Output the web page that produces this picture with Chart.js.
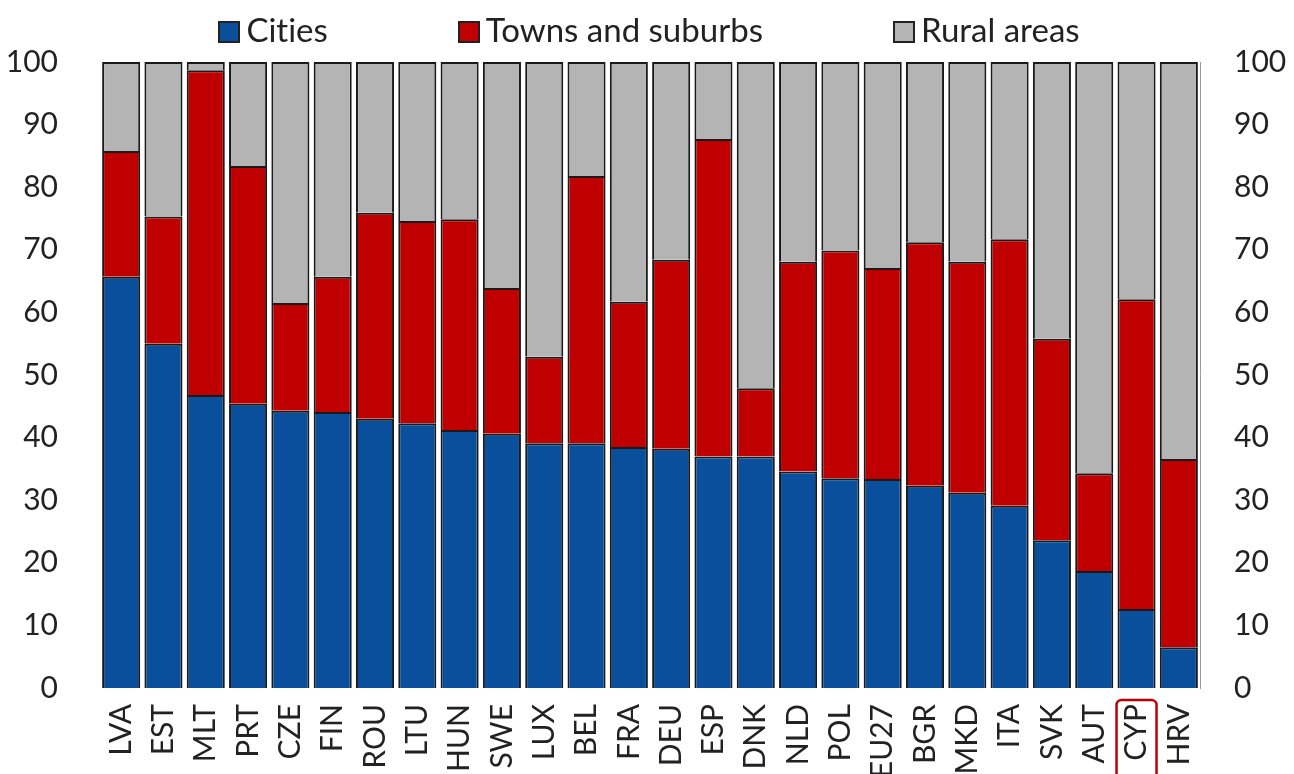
<!DOCTYPE html>
<html lang="en">
  <head>
    <meta charset="UTF-8" />
    <title>Cities, towns and rural areas</title>
    <script src="https://cdn.jsdelivr.net/npm/chart.js@4.4.1/dist/chart.umd.min.js"></script>
    <style>
      body {
        margin: 0;
        background: #fff;
        font-family: Lato, sans-serif;
      }

      .wrap {
        position: relative;
        width: 1294px;
        height: 774px;
      }

      .legend {
        position: absolute;
        top: 10px;
        left: 2px;
        width: 1294px;
        display: flex;
        justify-content: center;
        gap: 130px;
        font-size: 33px;
        color: #222;
        line-height: 38px;
        font-variant-ligatures: none;
        z-index: 2;
      }

      .legend span.box {
        display: inline-block;
        width: 18px;
        height: 18px;
        border: 2px solid #222;
        margin-right: 6px;
        vertical-align: -1px;
      }
    </style>
  </head>
  <body>
    <div class="wrap">
      <div class="legend">
        <div><span class="box" style="background: #0a4f9c"></span>Cities</div>
        <div><span class="box" style="background: #c00000"></span>Towns and suburbs</div>
        <div><span class="box" style="background: #b4b4b4"></span>Rural areas</div>
      </div>
      <canvas id="chart" width="1294" height="774"></canvas>
    </div>

    <script>
      // Data (shares of population, %)
      const countries = [
        "LVA", "EST", "MLT", "PRT", "CZE", "FIN", "ROU", "LTU", "HUN",
        "SWE", "LUX", "BEL", "FRA", "DEU", "ESP", "DNK", "NLD", "POL",
        "EU27", "BGR", "MKD", "ITA", "SVK", "AUT", "CYP", "HRV",
      ];
      const cities = [
        65.7, 55.0, 46.8, 45.4, 44.3, 44.1, 43.0, 42.3, 41.2, 40.6, 39.1,
        39.1, 38.5, 38.2, 37.0, 37.0, 34.6, 33.5, 33.4, 32.3, 31.2, 29.1,
        23.6, 18.7, 12.6, 6.5,
      ];
      const towns = [
        20.1, 20.3, 51.9, 38.0, 17.2, 21.6, 32.9, 32.3, 33.7, 23.3, 13.8,
        42.7, 23.2, 30.2, 50.7, 10.9, 33.5, 36.4, 33.7, 38.9, 36.9, 42.6,
        32.2, 15.6, 49.5, 30.1,
      ];
      const rural = [
        14.2, 24.7, 1.3, 16.6, 38.5, 34.3, 24.1, 25.4, 25.1, 36.1, 47.1,
        18.2, 38.3, 31.6, 12.3, 52.1, 31.9, 30.1, 32.9, 28.8, 31.9, 28.3,
        44.2, 65.7, 37.9, 63.4,
      ];
      const yTicks = [0, 10, 20, 30, 40, 50, 60, 70, 80, 90, 100];
      const highlight = "CYP";

      const tickFont = { family: "Lato, sans-serif", size: 30 };

      // Red box round the highlighted label
      const highlightBox = {
        id: "highlightBox",
        afterDraw(chart) {
          const idx = countries.indexOf(highlight);
          const x = chart.scales.x.getPixelForValue(idx);
          const top = chart.chartArea.bottom + 12;
          const ctx = chart.ctx;
          ctx.save();
          ctx.strokeStyle = "#c00000";
          ctx.lineWidth = 2.5;
          ctx.beginPath();
          ctx.roundRect(x - 20, top, 40, 90, 5);
          ctx.stroke();
          ctx.restore();
        },
      };

      const barStyle = {
        borderColor: "#1a1a1a",
        borderWidth: 2,
        barPercentage: 0.9,
        categoryPercentage: 1.0,
      };

      new Chart(document.getElementById("chart"), {
        type: "bar",
        data: {
          labels: countries,
          datasets: [
            { label: "Cities", data: cities, backgroundColor: "#0a4f9c", ...barStyle },
            { label: "Towns and suburbs", data: towns, backgroundColor: "#c00000", ...barStyle },
            { label: "Rural areas", data: rural, backgroundColor: "#b4b4b4", ...barStyle },
          ],
        },
        options: {
          responsive: false,
          animation: false,
          layout: { padding: { top: 62, left: 0, right: 0, bottom: 0 } },
          plugins: {
            legend: { display: false },
            tooltip: { enabled: false },
          },
          scales: {
            x: {
              stacked: true,
              grid: { display: false },
              border: { display: false },
              ticks: {
                color: "#222",
                font: { family: "Lato, sans-serif", size: 30 },
                minRotation: 90,
                maxRotation: 90,
                autoSkip: false,
                padding: 8,
              },
              afterFit(axis) {
                axis.height = 86;
              },
            },
            y: {
              stacked: true,
              min: 0,
              max: 100,
              afterBuildTicks(axis) {
                axis.ticks = yTicks.map((v) => ({ value: v }));
              },
              grid: { display: false },
              border: { display: false },
              ticks: { color: "#222", font: tickFont, padding: 34 },
              afterFit(axis) {
                axis.width = 100;
              },
            },
            y2: {
              position: "right",
              min: 0,
              max: 100,
              afterBuildTicks(axis) {
                axis.ticks = yTicks.map((v) => ({ value: v }));
              },
              grid: { display: false },
              border: { display: true, color: "#999", width: 1 },
              ticks: { color: "#222", font: tickFont, padding: 26 },
              afterFit(axis) {
                axis.width = 94;
              },
            },
          },
        },
        plugins: [highlightBox],
      });
    </script>
  </body>
</html>
